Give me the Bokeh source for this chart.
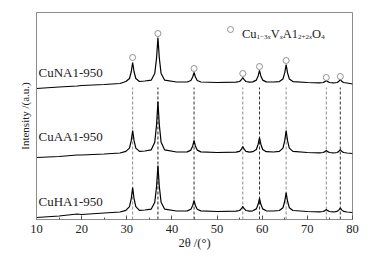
from bokeh.plotting import figure
from bokeh.models import Range1d, FixedTicker
from bokeh.core.properties import value
from bokeh.embed import file_html
from bokeh.resources import INLINE

# ---- data ----
two_theta = [10, 15, 19, 20, 25, 28.5,
             29.8, 30.6, 31.0, 31.3, 31.6, 32.0, 32.8, 34,
             35.4, 36.2, 36.6, 36.9, 37.2, 37.6, 38.4, 41,
             43.4, 44.2, 44.6, 44.9, 45.2, 45.6, 46.4, 50,
             54.2, 55.0, 55.4, 55.7, 56.0, 56.4, 57.2,
             57.9, 58.7, 59.1, 59.4, 59.7, 60.1, 60.9, 62.5,
             63.8, 64.6, 65.0, 65.3, 65.6, 66.0, 66.8, 70,
             72.7, 73.5, 73.9, 74.2, 74.5, 74.9, 75.7,
             75.8, 76.6, 77.0, 77.3, 77.6, 78.0, 78.8, 80]

cuna1 = [131, 132.5, 133.5, 134, 135, 136,
         138, 141, 148, 157, 148, 141, 138, 138.5,
         139.3, 146, 161.8, 182, 161.8, 146, 139.3, 137.5,
         137.5, 139, 142.5, 147, 142.5, 139, 137.5, 137,
         137.3, 138, 139.8, 142, 139.8, 138, 137.3,
         137.6, 139.4, 143.6, 149, 143.6, 139.4, 137.6, 137.5,
         137.9, 140.6, 146.9, 155, 146.9, 140.6, 137.9, 137,
         136.6, 137, 137.9, 139, 137.9, 137, 136.6,
         136.5, 137, 138.3, 140, 138.3, 137, 136.5, 135.5]

cuaa1 = [62, 63, 64.5, 64.5, 65.5, 66.5,
         68.1, 71.4, 79.1, 89, 79.1, 71.4, 68.1, 68.5,
         69.6, 77.2, 95, 118, 95, 77.2, 69.6, 67.5,
         67.6, 69.4, 73.6, 79, 73.6, 69.4, 67.6, 67,
         67.3, 68.2, 70.3, 73, 70.3, 68.2, 67.3,
         67.8, 70, 75.3, 82, 75.3, 70, 67.8, 67.5,
         68.1, 71.4, 79.1, 89, 79.1, 71.4, 68.1, 67,
         66.6, 67, 67.9, 69, 67.9, 67, 66.6,
         66.5, 67, 68.3, 70, 68.3, 67, 66.5, 66]

cuha1 = [2, 3.5, 5.5, 5, 6.5, 7.5,
         9.2, 12.8, 21.2, 32, 21.2, 12.8, 9.2, 9.5,
         10.3, 17.2, 33.3, 54, 33.3, 17.2, 10.3, 8.5,
         8.6, 10.2, 14, 19, 14, 10.2, 8.6, 8,
         8.3, 9, 10.8, 13, 10.8, 9, 8.3,
         8.7, 10.6, 15.2, 21, 15.2, 10.6, 8.7, 8.5,
         9, 11.8, 18.5, 27, 18.5, 11.8, 9, 8,
         7.6, 8, 8.9, 10, 8.9, 8, 7.6,
         7.5, 8.1, 9.6, 11.5, 9.6, 8.1, 7.5, 7]

peak_pos = [31.3, 36.9, 44.9, 55.7, 59.4, 65.3, 74.2, 77.3]
marker_y = [162, 186, 151, 146, 153, 159, 142, 143]
dash_top = [132, 132, 132, 132, 132, 132, 132, 132]
dash_color = ["#8a8a8a", "#222222", "#333333", "#8a8a8a", "#333333", "#8a8a8a", "#8a8a8a", "#333333"]

sample_names = ["CuNA1-950", "CuAA1-950", "CuHA1-950"]
sample_label_y = [147, 83, 18]

x_ticks = [10, 20, 30, 40, 50, 60, 70, 80]
x_minor = [15, 25, 35, 45, 55, 65, 75]

SERIF = "Liberation Serif"

p = figure(width=368, height=253, x_range=Range1d(10, 80), y_range=Range1d(0, 207),
           output_backend="svg", toolbar_location=None,
           min_border_left=36, min_border_right=16, min_border_top=12, min_border_bottom=34)
p.xgrid.visible = False
p.ygrid.visible = False
p.outline_line_color = "#8c8c8c"
p.outline_line_width = 1
p.background_fill_color = "white"
p.border_fill_color = "white"

xa = p.xaxis[0]
xa.ticker = FixedTicker(ticks=x_ticks, minor_ticks=x_minor)
xa.major_tick_in = 4
xa.major_tick_out = 0
xa.minor_tick_in = 2
xa.minor_tick_out = 0
xa.axis_line_color = "#8c8c8c"
xa.major_tick_line_color = "#555555"
xa.minor_tick_line_color = "#555555"
xa.major_label_text_font = SERIF
xa.major_label_text_font_size = "12.5px"
xa.major_label_text_color = "#222222"
xa.major_label_standoff = 5
xa.axis_label = "2θ /(°)"
xa.axis_label_text_font = SERIF
xa.axis_label_text_font_size = "12.5px"
xa.axis_label_text_font_style = "normal"
xa.axis_label_text_color = "#222222"
xa.axis_label_standoff = 0

ya = p.yaxis[0]
ya.ticker = FixedTicker(ticks=[])
ya.major_tick_in = 0
ya.major_tick_out = 0
ya.minor_tick_in = 0
ya.minor_tick_out = 0
ya.axis_line_color = "#8c8c8c"
ya.major_label_text_font_size = "0px"
ya.axis_label = "Intensity /(a.u.)"
ya.axis_label_text_font = SERIF
ya.axis_label_text_font_size = "11px"
ya.axis_label_text_font_style = "normal"
ya.axis_label_text_color = "#222222"
ya.axis_label_standoff = 6

# dashed reference lines
p.segment(x0=peak_pos, x1=peak_pos, y0=[0] * len(peak_pos), y1=dash_top,
          line_color=dash_color, line_width=1, line_dash="3 2")

# patterns
for ys in (cuna1, cuaa1, cuha1):
    p.line(two_theta, ys, line_color="black", line_width=1.2)

# phase markers
p.scatter(peak_pos, marker_y, marker="circle", size=6, fill_color="white",
          line_color="#777777", line_width=0.8)

# sample labels
p.text(x=[10.45] * 3, y=sample_label_y, text=sample_names, text_font=value(SERIF),
       text_font_size="13px", text_color="#222222", text_baseline="alphabetic")

# legend: open circle + Cu(1-3x) V(x) A1(2+2x) O(4)
def px2x(px):
    return (px - 36) / 316 * 70 + 10

W = {"C": .667, "u": .5, "V": .722, "A": .722, "1": .5, "O": .722, "−": .564,
     "3": .5, "2": .5, "+": .564, "4": .5, "x": .444}

p.scatter([px2x(230)], [190], marker="circle", size=6, fill_color="white",
          line_color="#777777", line_width=0.8)
pieces = [("Cu", 0, "normal"), ("1−3", 1, "normal"), ("x", 1, "italic"),
          ("V", 0, "normal"), ("x", 1, "italic"),
          ("A1", 0, "normal"), ("2+2", 1, "normal"), ("x", 1, "italic"),
          ("O", 0, "normal"), ("4", 1, "normal")]
cur = 241.5
for txt, sub, style in pieces:
    size = 7 if sub else 12.5
    p.text(x=[px2x(cur)], y=[183 if sub else 186], text=[txt], text_font=value(SERIF),
           text_font_size=f"{size}px", text_font_style=style,
           text_color="#222222", text_baseline="alphabetic")
    cur += sum(W[c] for c in txt) * size

open("out.html", "w").write(file_html(p, INLINE))
